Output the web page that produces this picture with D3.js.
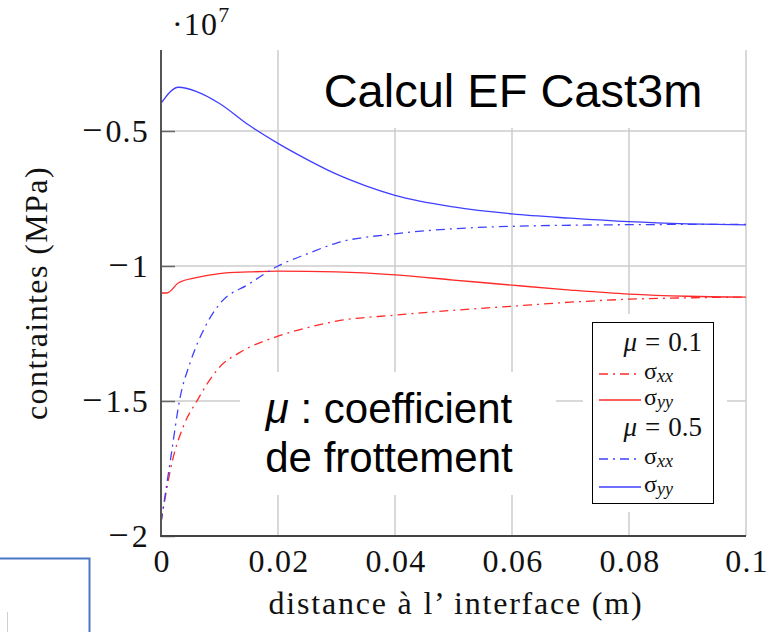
<!DOCTYPE html>
<html>
<head>
<meta charset="utf-8">
<script src="https://cdn.jsdelivr.net/npm/d3@7"></script>
<style>
  body { margin: 0; background: #fff; }
  svg { display: block; }
  .tick-lbl { font-family: "Liberation Serif", "Times New Roman", serif; font-size: 32px; letter-spacing: 1.2px; fill: #111; }
  .sans { font-family: "Liberation Sans", Arial, sans-serif; fill: #000; }
  .leg { font-family: "Liberation Serif", "Times New Roman", serif; fill: #111; }
</style>
</head>
<body>
<svg width="771" height="632"></svg>
<script>
// values are in units of 1e7 (axis multiplier shown as ·10^7)
const xTicks = [0, 0.02, 0.04, 0.06, 0.08, 0.1];
const yTicks = [-2, -1.5, -1, -0.5];

// mu = 0.5, sigma_yy (blue solid)
const syyMu05 = [[0,-0.398],[0.003,-0.338],[0.006,-0.353],[0.01,-0.398],[0.015,-0.478],[0.02,-0.546],
  [0.025,-0.606],[0.03,-0.660],[0.035,-0.703],[0.04,-0.738],[0.05,-0.781],[0.06,-0.807],[0.07,-0.823],
  [0.08,-0.836],[0.09,-0.844],[0.1,-0.848]];
// mu = 0.5, sigma_xx (blue dash-dot)
const sxxMu05 = [[0,-1.95],[0.0017,-1.706],[0.0032,-1.494],[0.005,-1.357],[0.0075,-1.227],[0.01,-1.141],
  [0.015,-1.067],[0.02,-1.0],[0.025,-0.955],[0.03,-0.915],[0.04,-0.881],[0.05,-0.862],[0.06,-0.853],
  [0.07,-0.849],[0.08,-0.847],[0.09,-0.846],[0.1,-0.846]];
// mu = 0.1, sigma_yy (red solid)
const syyMu01 = [[0,-1.10],[0.001,-1.10],[0.003,-1.062],[0.006,-1.043],[0.01,-1.028],[0.015,-1.022],
  [0.02,-1.019],[0.03,-1.022],[0.04,-1.033],[0.05,-1.052],[0.06,-1.071],[0.07,-1.089],[0.08,-1.104],
  [0.09,-1.112],[0.1,-1.115]];
// mu = 0.1, sigma_xx (red dash-dot)
const sxxMu01 = [[0,-1.95],[0.002,-1.717],[0.0038,-1.595],[0.0063,-1.494],[0.0084,-1.42],[0.01,-1.375],
  [0.0135,-1.32],[0.02,-1.26],[0.026,-1.223],[0.03,-1.204],[0.04,-1.182],[0.05,-1.164],[0.06,-1.149],
  [0.07,-1.134],[0.08,-1.123],[0.09,-1.118],[0.1,-1.115]];

const legendGroups = [
  { mu: "0.1", rows: [["xx", "sxxMu01"], ["yy", "syyMu01"]] },
  { mu: "0.5", rows: [["xx", "sxxMu05"], ["yy", "syyMu05"]] }
];

const RED = "#ff2a2a", BLUE = "#3f3fff", DASHDOT = "9,5,2,5";
const styles = {
  syyMu05: { color: BLUE, dash: null },
  sxxMu05: { color: BLUE, dash: DASHDOT },
  syyMu01: { color: RED, dash: null },
  sxxMu01: { color: RED, dash: DASHDOT }
};
const seriesData = { syyMu05, sxxMu05, syyMu01, sxxMu01 };

const svg = d3.select("svg");
const x = d3.scaleLinear().domain([0, 0.1]).range([161, 746]);
const y = d3.scaleLinear().domain([-2, -0.2]).range([536, 50]);
const fmt = d3.format("~g");

// grid
const grid = svg.append("g").attr("stroke", "#cccccc").attr("stroke-width", 1.5);
grid.selectAll(".vg").data(xTicks.slice(1)).enter().append("line")
  .attr("x1", d => x(d)).attr("x2", d => x(d))
  .attr("y1", y.range()[0]).attr("y2", y.range()[1]);
grid.selectAll(".hg").data(yTicks.slice(1)).enter().append("line")
  .attr("x1", x.range()[0]).attr("x2", x.range()[1])
  .attr("y1", d => y(d)).attr("y2", d => y(d));

// white boxes of the slide overlays (hide the grid below them)
svg.append("rect").attr("x", 300).attr("y", 40).attr("width", 441).attr("height", 88).attr("fill", "#fff");
svg.append("rect").attr("x", 240).attr("y", 372).attr("width", 316).attr("height", 123).attr("fill", "#fff");
svg.append("rect").attr("x", 583).attr("y", 314).attr("width", 144).attr("height", 198).attr("fill", "#fff");

// curves
const line = d3.line().x(d => x(d[0])).y(d => y(d[1])).curve(d3.curveMonotoneX);
["sxxMu01", "syyMu01", "sxxMu05", "syyMu05"].forEach(k => {
  svg.append("path")
    .datum(seriesData[k])
    .attr("fill", "none")
    .attr("stroke", styles[k].color)
    .attr("stroke-width", 1.3)
    .attr("stroke-dasharray", styles[k].dash)
    .attr("d", line);
});

// axes
const yAxis = svg.append("g").attr("transform", `translate(${x.range()[0]},0)`)
  .call(d3.axisLeft(y).tickValues(yTicks).tickSize(-14).tickFormat(""));
yAxis.select(".domain").remove();
yAxis.selectAll("line").attr("stroke", "#666").attr("stroke-width", 1.5);

svg.append("line").attr("x1", x.range()[0]).attr("x2", x.range()[0])
  .attr("y1", y.range()[1]).attr("y2", y.range()[0] + 1)
  .attr("stroke", "#555").attr("stroke-width", 2);
svg.append("line").attr("x1", x.range()[0] - 1).attr("x2", x.range()[1])
  .attr("y1", y.range()[0]).attr("y2", y.range()[0])
  .attr("stroke", "#444").attr("stroke-width", 2);

// tick labels (TeX-like wide minus)
const yl = svg.append("g").selectAll("text").data(yTicks).enter().append("text")
  .attr("class", "tick-lbl")
  .attr("x", 149).attr("y", d => y(d)).attr("dy", "0.35em")
  .attr("text-anchor", "end");
yl.append("tspan").attr("font-size", 36).text("−");
yl.append("tspan").attr("dx", 2).text(d => fmt(Math.abs(d)));
svg.append("g").selectAll("text").data(xTicks).enter().append("text")
  .attr("class", "tick-lbl")
  .attr("x", d => x(d) + 1).attr("y", 572)
  .attr("text-anchor", "middle")
  .text(d => fmt(d));

// multiplier
const mult = svg.append("text").attr("class", "tick-lbl").attr("x", 172).attr("y", 35);
mult.append("tspan").text("·10");
mult.append("tspan").attr("font-size", 22).attr("dy", -13).text("7");

// axis titles
svg.append("text").attr("class", "tick-lbl")
  .attr("x", 456).attr("y", 614).attr("text-anchor", "middle")
  .style("letter-spacing", "1.8px")
  .text("distance à l’ interface (m)");
svg.append("text").attr("class", "tick-lbl")
  .attr("transform", "translate(47,293) rotate(-90)")
  .attr("text-anchor", "middle")
  .style("letter-spacing", "1.4px")
  .text("contraintes (MPa)");

// overlay texts
svg.append("text").attr("class", "sans").attr("x", 513).attr("y", 107)
  .attr("text-anchor", "middle").attr("font-size", 47)
  .text("Calcul EF Cast3m");
const note = svg.append("text").attr("class", "sans").attr("font-size", 42).attr("text-anchor", "middle");
const l1 = note.append("tspan").attr("x", 389).attr("y", 423);
l1.append("tspan").attr("font-style", "italic").text("μ");
l1.append("tspan").text(" : coefficient");
note.append("tspan").attr("x", 389).attr("y", 472).text("de frottement");

// legend
const leg = svg.append("g");
leg.append("rect").attr("x", 592.5).attr("y", 322.5).attr("width", 121).attr("height", 181)
  .attr("fill", "#fff").attr("stroke", "#000").attr("stroke-width", 1);
const headY = [351, 436];
const rowY = [[374, 400], [459, 487]];
legendGroups.forEach((g, gi) => {
  const h = leg.append("text").attr("class", "leg").attr("font-size", 27)
    .attr("x", 702).attr("y", headY[gi]).attr("text-anchor", "end");
  h.append("tspan").attr("font-style", "italic").text("μ");
  h.append("tspan").attr("dx", 8).text("=");
  h.append("tspan").attr("dx", 8).text(g.mu);
  g.rows.forEach((r, ri) => {
    const yy = rowY[gi][ri];
    const st = styles[r[1]];
    leg.append("line").attr("x1", 599).attr("x2", 641).attr("y1", yy).attr("y2", yy)
      .attr("stroke", st.color).attr("stroke-width", 1.3).attr("stroke-dasharray", st.dash);
    const t = leg.append("text").attr("class", "leg").attr("x", 644).attr("y", yy + 5).attr("font-size", 24);
    t.append("tspan").text("σ");
    t.append("tspan").attr("font-size", 18).attr("font-style", "italic").attr("dy", 3).text(r[0]);
  });
});

// slide fragments at bottom left
svg.append("path").attr("d", "M0,558.5H89.5V632").attr("fill", "none")
  .attr("stroke", "#4a76c6").attr("stroke-width", 2);
svg.append("line").attr("x1", 7.5).attr("x2", 7.5).attr("y1", 612).attr("y2", 632)
  .attr("stroke", "#cfcfcf").attr("stroke-width", 1);
</script>
</body>
</html>
